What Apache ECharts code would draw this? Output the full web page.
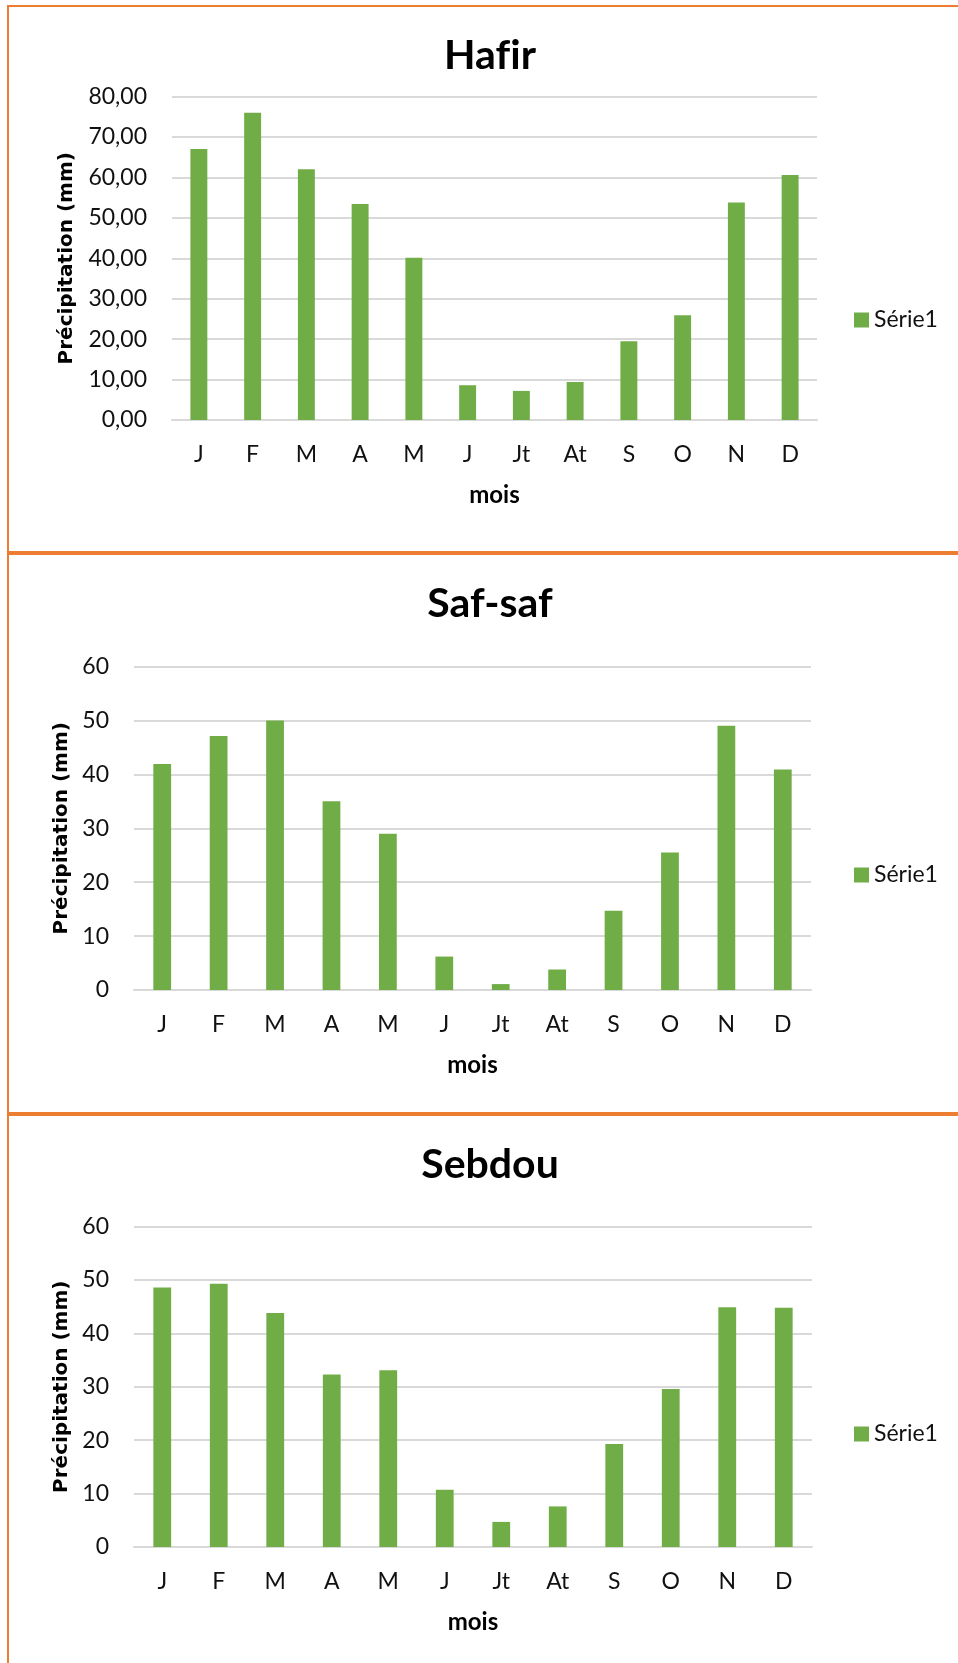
<!DOCTYPE html>
<html>
<head>
<meta charset="utf-8">
<title>Précipitations mensuelles</title>
<script src="https://cdn.jsdelivr.net/npm/echarts@6/dist/echarts.min.js"></script>
<style>
  html, body { margin: 0; padding: 0; background: #ffffff; }
  #chart { width: 958px; height: 1663px; }
</style>
</head>
<body>
<div id="chart"></div>
<script>
// Monthly precipitation (mm) at three stations
const months = ['J', 'F', 'M', 'A', 'M', 'J', 'Jt', 'At', 'S', 'O', 'N', 'D'];
const stationNames = ['Hafir', 'Saf-saf', 'Sebdou'];
const hafir  = [67.0, 76.0, 62.0, 53.4, 40.1, 8.6, 7.2, 9.4, 19.5, 25.9, 53.8, 60.6];
const safsaf = [41.9, 47.1, 50.0, 35.0, 29.0, 6.2, 1.1, 3.8, 14.7, 25.5, 49.0, 40.9];
const sebdou = [48.6, 49.3, 43.8, 32.3, 33.1, 10.7, 4.7, 7.6, 19.3, 29.6, 44.9, 44.8];
const seriesName = 'Série1';
const xTitle = 'mois';
const yTitles = ['Précipitation (mm)', 'Précipitation (mm)', 'Précipitation (mm)'];

const GREEN = '#70AD47';
const ORANGE = '#ED7D31';
const GRID_GRAY = '#D9D9D9';
const LABEL_FONT = 'Lato, "Open Sans", sans-serif';

// panel layout (pixels)
const panels = [
  { data: hafir,  grid: { left: 172, top: 96.5, width: 645, height: 323.5 }, max: 80, interval: 10, decimals: 2,
    titleY: 56, legendY: 320, yNameGap: 95 },
  { data: safsaf, grid: { left: 134, top: 666.5, width: 677, height: 323.5 }, max: 60, interval: 10, decimals: 0,
    titleY: 604, legendY: 875, yNameGap: 62 },
  { data: sebdou, grid: { left: 134, top: 1226.5, width: 678, height: 320.5 }, max: 60, interval: 10, decimals: 0,
    titleY: 1165, legendY: 1434, yNameGap: 62 }
];

const fmt = (d) => (v) => v.toFixed(d).replace('.', ',');
// keep "f" and "i" as separate glyphs (no fi ligature)
const noLigature = (s) => s.replace(/f(?=[il])/g, 'f\u200C');

const option = {
  animation: false,
  backgroundColor: '#ffffff',
  title: panels.map((p, i) => ({
    text: noLigature(stationNames[i]),
    left: 490,
    top: p.titleY - 22,
    textAlign: 'center',
    padding: 0,
    textStyle: { fontFamily: LABEL_FONT, fontWeight: 'bold', fontSize: 41, lineHeight: 44, color: '#000000' }
  })),
  legend: panels.map((p) => ({
    data: [seriesName],
    left: 854,
    top: p.legendY - 11.5,
    padding: 0,
    icon: 'rect',
    itemWidth: 15,
    itemHeight: 15,
    selectedMode: false,
    textStyle: { fontFamily: LABEL_FONT, fontSize: 23, lineHeight: 23, color: '#111111' }
  })),
  grid: panels.map((p) => Object.assign({ containLabel: false }, p.grid)),
  xAxis: panels.map((p, i) => ({
    type: 'category',
    gridIndex: i,
    data: months,
    name: xTitle,
    nameLocation: 'middle',
    nameGap: 63,
    nameTextStyle: { fontFamily: LABEL_FONT, fontWeight: 'bold', fontSize: 24, color: '#000000' },
    axisLine: { show: true, lineStyle: { color: GRID_GRAY, width: 2 } },
    axisTick: { show: false },
    axisLabel: { margin: 23, fontFamily: LABEL_FONT, fontSize: 23, color: '#111111' }
  })),
  yAxis: panels.map((p, i) => ({
    type: 'value',
    gridIndex: i,
    min: 0,
    max: p.max,
    interval: p.interval,
    name: yTitles[i],
    nameLocation: 'middle',
    nameGap: p.yNameGap,
    nameTextStyle: { fontFamily: '"DejaVu Sans", sans-serif', fontWeight: 'bold', fontSize: 20, color: '#000000' },
    axisLine: { show: false },
    axisTick: { show: false },
    splitLine: { lineStyle: { color: GRID_GRAY, width: 2 } },
    axisLabel: { margin: 25, fontFamily: LABEL_FONT, fontSize: 23, color: '#111111', formatter: fmt(p.decimals) }
  })),
  series: panels.map((p, i) => ({
    type: 'bar',
    name: seriesName,
    xAxisIndex: i,
    yAxisIndex: i,
    data: p.data,
    barWidth: '31.5%',
    itemStyle: { color: GREEN },
    z: 3
  })),
  // orange frame lines around the three chart boxes
  graphic: [
    { type: 'rect', shape: { x: 7, y: 5, width: 2, height: 1658 }, style: { fill: ORANGE }, silent: true },
    { type: 'rect', shape: { x: 7, y: 5, width: 951, height: 2 }, style: { fill: ORANGE }, silent: true },
    { type: 'rect', shape: { x: 7, y: 551, width: 951, height: 4 }, style: { fill: ORANGE }, silent: true },
    { type: 'rect', shape: { x: 7, y: 1112, width: 951, height: 4 }, style: { fill: ORANGE }, silent: true }
  ]
};

const chart = echarts.init(document.getElementById('chart'), null, { renderer: 'canvas' });
chart.setOption(option);
</script>
</body>
</html>
